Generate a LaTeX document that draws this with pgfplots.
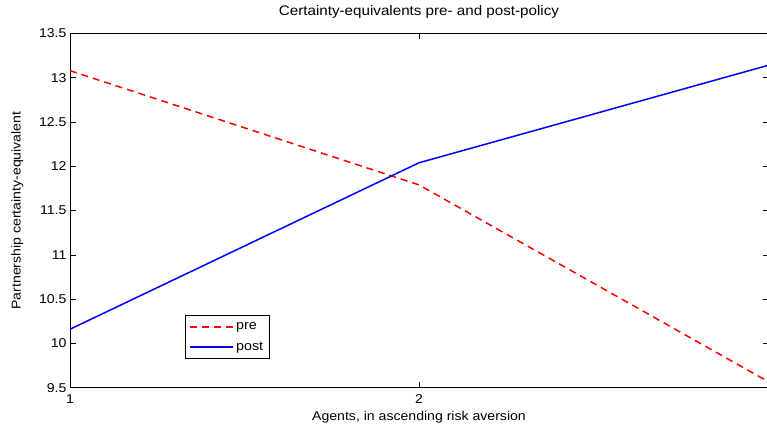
\documentclass[border=0pt]{standalone}
\usepackage{fontspec}
\setmainfont{Liberation Sans}[FakeStretch=1.1]
\usepackage{pgfplots}
\pgfplotsset{compat=1.18}
\begin{document}
\begin{tikzpicture}[x=1pt,y=1pt]
\useasboundingbox (0,0) rectangle (767,423);
\begin{axis}[
  at={(70pt,35.3pt)}, anchor=south west,
  scale only axis, width=698pt, height=354.2pt,
  xmin=1, xmax=3, ymin=9.5, ymax=13.5,
  xtick={1,2,3}, xticklabels={1,2,{}},
  ytick={9.5,10,10.5,11,11.5,12,12.5,13,13.5},
  tick align=inside, major tick length=5.5pt,
  tick style={black, line width=0.6pt},
  axis line style={line width=0.9pt},
  /pgf/number format/assume math mode=true,
  ticklabel style={font=\fontsize{12.8}{14}\selectfont},
  xticklabel style={anchor=base, yshift=-15.5pt},
  title style={font=\fontsize{13.8}{15}\selectfont, at={(0.5,1)}, anchor=base, yshift=11.5pt},
  title={Certainty-equivalents pre- and post-policy},
  xlabel={Agents, in ascending risk aversion},
  xlabel style={font=\fontsize{12.8}{14}\selectfont, at={(axis description cs:0.5,0)}, anchor=base, yshift=-32.5pt},
  ylabel={Partnership certainty-equivalent},
  ylabel style={font=\fontsize{12.8}{14}\selectfont, at={(axis description cs:0,0.5)}, anchor=south, inner sep=0pt, yshift=46.5pt},
  legend style={at={(0.165,0.08)}, anchor=south west, draw=black, line width=0.9pt,
    font=\fontsize{13}{14}\selectfont, cells={anchor=west}, inner xsep=4pt, inner ysep=5pt, row sep=7pt},
  legend image code/.code={\draw[#1] (0pt,0pt) -- (43pt,0pt);},
]
\addplot[red, line width=1.5pt, dash pattern=on 7pt off 5pt] coordinates {(1,13.08) (2,11.79) (3,9.57)};
\addplot[blue, line width=1.5pt] coordinates {(1,10.16) (2,12.04) (3,13.14)};
\legend{pre,post}
\end{axis}
\end{tikzpicture}
\end{document}
